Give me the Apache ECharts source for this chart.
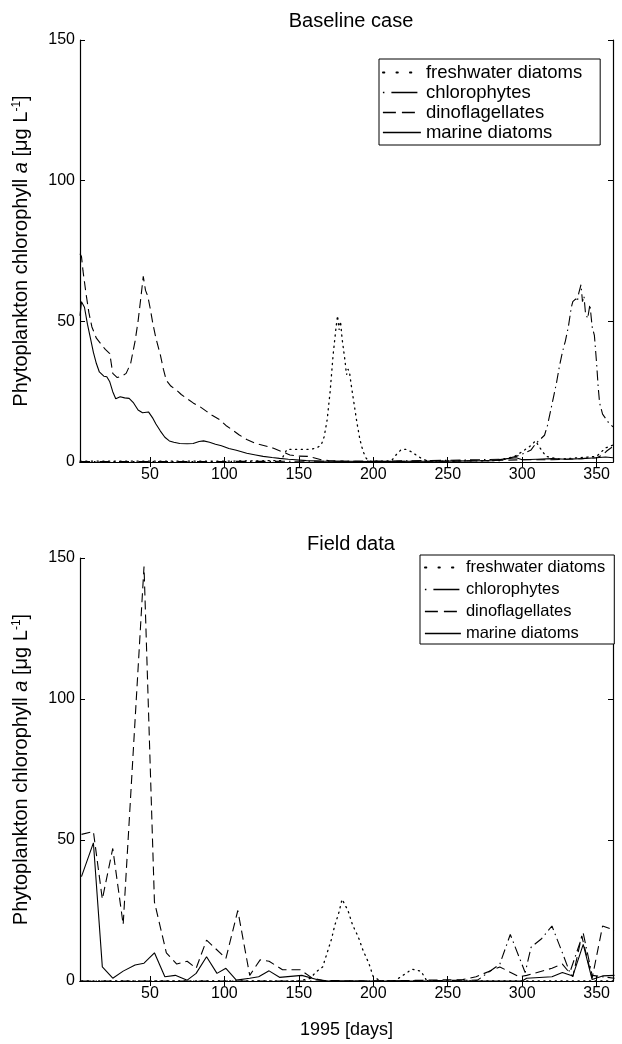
<!DOCTYPE html>
<html>
<head>
<meta charset="utf-8">
<script src="https://cdn.jsdelivr.net/npm/echarts@6/dist/echarts.min.js"></script>
<style>
html,body{margin:0;padding:0;background:#fff;}
#chart{width:622px;height:1044px;}
</style>
</head>
<body>
<div id="chart"></div>
<script>
// ---------- data ----------
const seriesNames = ['freshwater diatoms', 'chlorophytes', 'dinoflagellates', 'marine diatoms'];
const xTickValues = [50, 100, 150, 200, 250, 300, 350];
const yTickValues = [0, 50, 100, 150];
const titles = ['Baseline case', 'Field data'];

// Baseline case (model output) [day, chl a]
const baseFreshwater = [[3,0.3],[100,0.3],[138,0.5],[142,4.5],[150,4.5],[158,4.5],[162,5],[165,6],[167,9],[169,15],[171,25],[173,38],[175,48],[176,52],[177,47],[178,50],[179,44],[180,40],[181,36],[182,31],[183,33],[184,32],[185,28],[187,21],[189,14],[191,8],[193,4],[195,1.5],[197,0.3],[212,0.3],[216,3],[219,4.5],[222,4.5],[226,3.5],[230,2],[234,0.8],[240,0.3],[285,0.5],[295,2],[300,3.7],[305,5.5],[309,7.5],[312,5],[316,2],[325,1],[350,2],[356,5],[361,6]];
const baseChlorophytes = [[3,0.2],[100,0.2],[200,0.3],[250,0.6],[270,0.8],[285,1],[292,1.5],[296,2],[300,2.8],[303,3.5],[306,4.3],[309,6.5],[312,8],[315,9.5],[317,13],[319,18],[321,23],[323,28],[325,34],[327,39],[329,43],[331,48],[333,55],[334,57],[336,58],[337,57],[338,60],[339.5,63],[340.5,57],[341.5,59],[342.5,53],[344,51],[345.5,56],[347,48],[348.5,45],[350,35],[351,27],[352,21],[354,17],[356,15.5],[358,14],[361,12.5]];
const baseDinoflagellates = [[3,74],[4,73],[5,68],[7,60],[9,53],[11,48],[14,44],[17,42],[20,40],[23,38.5],[24,35],[25,31.5],[28,30],[31,30.5],[34,31.5],[37,35],[40,43],[42,50],[44,59],[45.5,66],[47,61],[48.5,59],[50,55],[52,49],[54,44],[55.5,41],[57,38],[59,33],[61,29],[64,27],[68,25.5],[71,24],[75,22.5],[79,21],[84,19.5],[88,18],[92,16.5],[97,15],[101,13],[105,11.5],[110,9.6],[115,8],[121,6.6],[127,5.8],[133,4.9],[138,3.8],[144,2.5],[150,2.1],[156,2],[160,1.5],[165,0.8],[170,0.5],[180,0.3],[200,0.2],[250,0.3],[280,0.5],[300,0.8],[320,0.8],[340,1.2],[350,1.5],[354,2.5],[357,4],[361,5.5]];
const baseMarine = [[3,52],[4,57],[6,55],[8,49],[10,44],[12,39],[14,35],[16,32],[19,30.5],[21,30.3],[23,28.5],[25,25],[27,22.5],[30,23.2],[33,22.8],[36,22.6],[39,21],[42,18.5],[45,17.5],[49,17.8],[52,15.5],[54,13.5],[57,11],[60,8.8],[63,7.5],[66,7],[70,6.6],[75,6.5],[79,6.6],[83,7.3],[86,7.5],[90,7],[94,6.3],[98,5.8],[103,4.8],[108,4.2],[115,3.1],[121,2.5],[126,2],[132,1.6],[137,1.3],[143,1],[148,0.8],[155,0.5],[165,0.3],[200,0.2],[250,0.3],[280,0.5],[290,1.2],[296,1.5],[300,0.8],[310,1],[320,1.2],[330,1],[340,1.2],[350,1.5],[356,1.8],[361,1.5]];

// Field data [day, chl a]
const fieldFreshwater = [[4,0],[150,0],[158,1],[161,3],[166,5],[169,10],[172,15],[174,19.5],[177,24.5],[179,29],[183,25],[186,20],[190,15.5],[193,11],[197,6.3],[200,1.5],[205,0],[214,0],[218,1.3],[226,4.2],[232,3.5],[236,0],[362,0]];
const fieldChlorophytes = [[4,0],[200,0],[270,0.3],[285,6],[292,16.5],[302,3],[306,12],[313,15],[320,19.5],[327,10],[332,3],[341,17],[347,2],[354,1.5],[362,1]];
const fieldDinoflagellates = [[4,52],[12,53],[18,29],[25,47],[32,20],[46,147],[53,28],[61,10],[68,6],[75,7],[81,4.5],[88,14.5],[101,8],[109,25],[117,2],[124,7.5],[130,7],[139,4],[151,4],[159,1],[166,0.2],[200,0],[260,0.5],[269,1.5],[285,5],[298,1.5],[303,2],[320,4.5],[327,6],[334,1.5],[340,16],[347,1],[354,19.5],[362,18]];
const fieldMarine = [[4,37],[12,49],[18,5],[25,1],[32,3.5],[40,5.7],[46,6.3],[53,10],[60,1.5],[67,2],[75,0.3],[81,2.7],[88,8.6],[95,2.7],[101,4.5],[108,0.3],[117,1],[123,1.5],[130,3.6],[137,1.3],[152,2],[162,0.5],[170,0],[300,0],[303,1],[320,1.5],[327,3],[334,1.8],[341,13],[347,0.5],[354,1.8],[362,2]];

// ---------- chart ----------
const FONT = "'Liberation Sans', Arial, Helvetica, sans-serif";
const styles = [
  {type: [1.2, 4.5], cap: 'round', width: 1.3},
  {type: [10, 4, 1.5, 4], width: 1.1},
  {type: [9, 5], width: 1.1},
  {type: 'solid', width: 1.1}
];
const legendLineStyles = [
  {type: [1.5, 12], cap: 'round', width: 1.8, color: '#000'},
  {type: [1.5, 7, 26, 100], width: 1.4, color: '#000'},
  {type: [13, 6], width: 1.4, color: '#000'},
  {type: 'solid', width: 1.4, color: '#000'}
];
const gridsPos = [{left: 80, top: 40, width: 533, height: 422}, {left: 80, top: 558, width: 533, height: 423}];

const xAxes = [], yAxes = [], series = [];
const yName = 'Phytoplankton chlorophyll {i|a} [μg L{s|-1}]';
gridsPos.forEach((g, gi) => {
  const common = {gridIndex: gi, type: 'value', min: 3, max: 361, splitLine: {show: false},
    axisLine: {lineStyle: {color: '#000', width: 1.2}}};
  xAxes.push(Object.assign({}, common, {
    position: 'bottom',
    axisTick: {inside: true, length: 5, customValues: xTickValues, lineStyle: {color: '#000'}},
    axisLabel: {customValues: xTickValues, color: '#000', fontSize: 16, fontFamily: FONT, margin: 5},
    name: gi === 1 ? '1995 [days]' : '', nameLocation: 'middle', nameGap: 40,
    nameTextStyle: {color: '#000', fontSize: 18, fontFamily: FONT}
  }));
  xAxes.push(Object.assign({}, common, {
    position: 'top',
    axisTick: {inside: true, length: 5, customValues: xTickValues, lineStyle: {color: '#000'}},
    axisLabel: {show: false}
  }));
  const ycommon = {gridIndex: gi, type: 'value', min: 0, max: 150, interval: 50, splitLine: {show: false},
    axisLine: {show: true, lineStyle: {color: '#000', width: 1.2}},
    axisTick: {show: true, inside: true, length: 5, lineStyle: {color: '#000'}}};
  yAxes.push(Object.assign({}, ycommon, {
    position: 'left',
    axisLabel: {color: '#000', fontSize: 16, fontFamily: FONT, margin: 5},
    name: yName, nameLocation: 'middle', nameGap: 49, nameRotate: 90,
    nameTextStyle: {color: '#000', fontSize: 20, fontFamily: FONT,
      rich: {
        i: {fontStyle: 'italic', fontSize: 20, fontFamily: FONT, color: '#000'},
        s: {fontSize: 12, fontFamily: FONT, color: '#000', verticalAlign: 'top'}
      }}
  }));
  yAxes.push(Object.assign({}, ycommon, {position: 'right', axisLabel: {show: false}}));
});

const sets = [
  [baseFreshwater, baseChlorophytes, baseDinoflagellates, baseMarine],
  [fieldFreshwater, fieldChlorophytes, fieldDinoflagellates, fieldMarine]
];
sets.forEach((set, gi) => {
  set.forEach((d, si) => {
    series.push({
      name: seriesNames[si], type: 'line', xAxisIndex: gi * 2, yAxisIndex: gi * 2,
      data: d, showSymbol: false, symbol: 'none', animation: false, silent: true,
      lineStyle: Object.assign({color: '#000'}, styles[si]),
      itemStyle: {color: '#000'}, z: 10 - si
    });
  });
});

function legendData() {
  return seriesNames.map((n, i) => ({name: n, lineStyle: legendLineStyles[i],
    itemStyle: {color: 'rgba(0,0,0,0)', borderColor: 'rgba(0,0,0,0)', borderWidth: 0}}));
}
const legendCommon = {
  orient: 'vertical', itemHeight: 10,
  backgroundColor: '#fff', borderColor: '#000', borderWidth: 1, borderRadius: 0,
  itemStyle: {color: 'rgba(0,0,0,0)', borderColor: 'rgba(0,0,0,0)', borderWidth: 0},
  selectedMode: false
};
const chart = echarts.init(document.getElementById('chart'), null, {renderer: 'canvas'});
chart.setOption({
  animation: false,
  backgroundColor: '#fff',
  title: [
    {text: titles[0], left: 346, top: 6, textAlign: 'center', textStyle: {color: '#000', fontSize: 20, fontWeight: 'normal', fontFamily: FONT}},
    {text: titles[1], left: 346, top: 529, textAlign: 'center', textStyle: {color: '#000', fontSize: 20, fontWeight: 'normal', fontFamily: FONT}}
  ],
  grid: gridsPos,
  xAxis: xAxes,
  yAxis: yAxes,
  legend: [
    Object.assign({}, legendCommon, {data: legendData(), left: 379, top: 59, itemWidth: 38, itemGap: 1, padding: [4, 18, 3, 3],
      textStyle: {color: '#000', fontSize: 18.5, fontFamily: FONT}}),
    Object.assign({}, legendCommon, {data: legendData(), left: 420, top: 555, itemWidth: 36, itemGap: 5, padding: [4, 9, 2, 4],
      textStyle: {color: '#000', fontSize: 16.5, fontFamily: FONT}})
  ],
  series: series
});
</script>
</body>
</html>
